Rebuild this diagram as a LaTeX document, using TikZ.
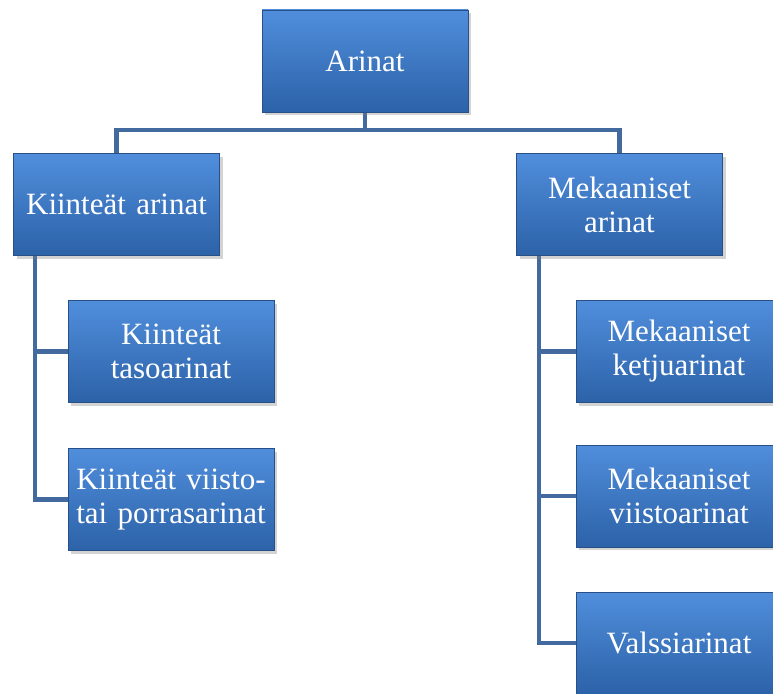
\documentclass[tikz,border=0pt]{standalone}
\usepackage{fontspec}
\setmainfont{Liberation Serif}
\usetikzlibrary{shadows,backgrounds}
\definecolor{boxtop}{RGB}{80,142,220}
\definecolor{boxbot}{RGB}{44,98,168}
\definecolor{boxedge}{RGB}{40,80,135}
\definecolor{linkblue}{RGB}{66,106,158}
\tikzset{box/.style={rectangle, minimum width=206, minimum height=102,
	text width=200, inner sep=3, align=center, text=white,
	top color=boxtop, bottom color=boxbot, draw=boxedge, line width=0.6pt,
	drop shadow={opacity=0.35, shadow xshift=3pt, shadow yshift=-3pt},
	font=\fontsize{31}{34}\selectfont},
	link/.style={draw=linkblue, line width=4.5pt}}

\begin{document}
\begin{tikzpicture}[x=1pt,y=-1pt]
  \useasboundingbox (0,0) rectangle (773,693);
  \clip (0,0) rectangle (773,693);
  \node[box] (arinat) at (365,61) {Arinat};
  \node[box] (kiinteat) at (116.5,204.5) {Kiinteät arinat};
  \node[box] (mekaaniset) at (619.5,204.5) {Mekaaniset\\arinat};
  \node[box] (taso) at (171,351.5) {Kiinteät\\tasoarinat};
  \node[box] (porras) at (171,499.5) {Kiinteät viisto-\\tai porrasarinat};
  \node[box] (ketju) at (679,351.5) {Mekaaniset\\ketjuarinat};
  \node[box] (mviisto) at (679,496) {Mekaaniset\\viistoarinat};
  \node[box] (valssi) at (679,643) {Valssiarinat};
  \coordinate (bus) at (365,130);
  \coordinate (ktrunk) at ([xshift=22]kiinteat.south west);
  \coordinate (mtrunk) at ([xshift=23]mekaaniset.south west);
  % connectors behind the boxes
  \begin{scope}[on background layer]
    \draw[link] (arinat.south) -- (bus);
    \draw[link] (kiinteat.north) |- (bus) -| (mekaaniset.north);
    \foreach \to in {taso,porras}
      \draw[link] (ktrunk) |- (\to.west);
    \foreach \to in {ketju,mviisto,valssi}
      \draw[link] (mtrunk) |- (\to.west);
  \end{scope}
\end{tikzpicture}
\end{document}
